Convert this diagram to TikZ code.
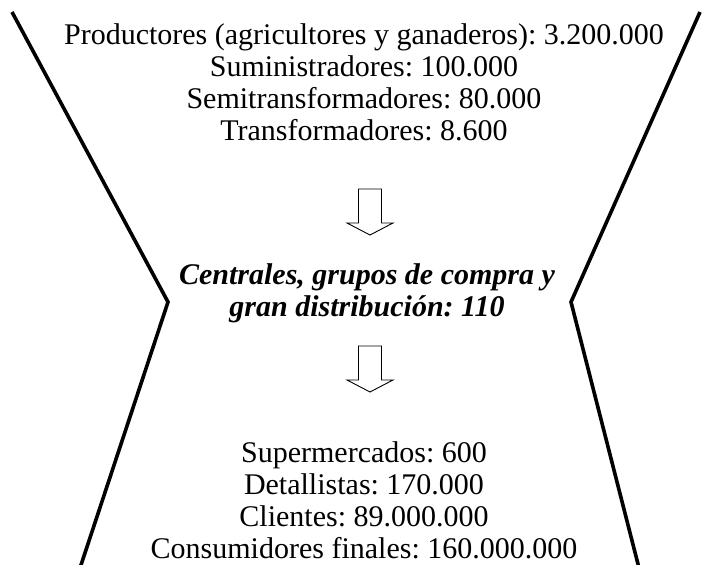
\documentclass[tikz,border=0pt]{standalone}
\usepackage{fontspec}
\setmainfont{Liberation Serif}
\frenchspacing
\begin{document}
\begin{tikzpicture}[x=1pt,y=-1pt,
    txt/.style={align=center,font=\fontsize{30}{32}\selectfont,inner sep=0pt},
    bigarrow/.style={draw,line width=0.9pt,fill=white},
    wall/.style={line width=3.6pt}]
\useasboundingbox (0,0) rectangle (702,565);

% hourglass walls
\draw[wall] (12,12) -- (168,302) -- (80,568);
\draw[wall] (700,12) -- (571,302) -- (639,568);

\node[txt] (prod) at (364,82) {Productores (agricultores y ganaderos): 3.200.000\\
    Suministradores: 100.000\\
    Semitransformadores: 80.000\\
    Transformadores: 8.600};
\node[txt,font=\fontsize{30}{32}\selectfont\bfseries\itshape] (cent) at (367,293)
    {Centrales, grupos de compra y\\ gran distribución: 110};
\node[txt] (cons) at (364,500) {Supermercados: 600\\
    Detallistas: 170.000\\
    Clientes: 89.000.000\\
    Consumidores finales: 160.000.000};

% block arrows
\coordinate (arrowA) at (370,189);
\coordinate (arrowB) at (370,346);
\foreach \c in {arrowA,arrowB}
    \draw[bigarrow] (\c) ++(-11.5,0) -- ++(23,0) -- ++(0,34) -- ++(11.5,0)
        -- ++(-23,12) -- ++(-23,-12) -- ++(11.5,0) -- cycle;
\end{tikzpicture}
\end{document}
